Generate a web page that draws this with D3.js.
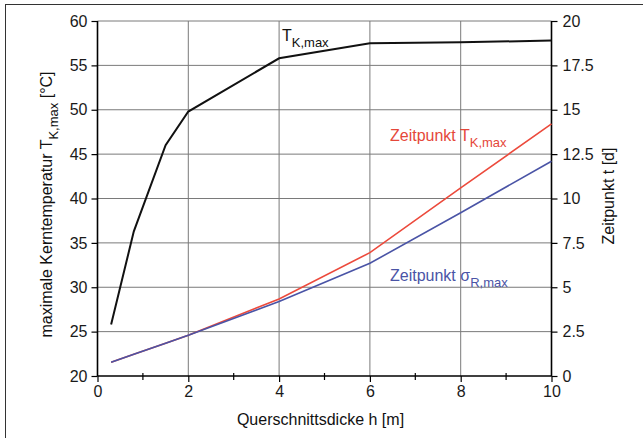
<!DOCTYPE html>
<html>
<head>
<meta charset="utf-8">
<script src="https://cdn.jsdelivr.net/npm/d3@7"></script>
<style>
html,body{margin:0;padding:0;background:#fff;}
svg{display:block;font-family:"Liberation Sans",Arial,Helvetica,sans-serif;}
</style>
</head>
<body>
<svg id="chart" width="643" height="438"></svg>
<script>
// ---- data ----
const thickness = [0.3, 0.8, 1.5, 2, 4, 6, 8, 10];          // h [m]
const tKmax = [25.8, 36.3, 46.0, 49.8, 55.8, 57.5, 57.6, 57.8]; // °C, left axis
const timeTKmax = [0.77, 1.22, 1.85, 2.3, 4.34, 6.95, 10.6, 14.2]; // d, right axis
const timeSigmaR = [0.77, 1.22, 1.85, 2.3, 4.2, 6.35, 9.2, 12.1]; // d, right axis
const xTicks = [0, 2, 4, 6, 8, 10];
const xMinorTicks = [1, 3, 5, 7, 9];
const leftTicks = [20, 25, 30, 35, 40, 45, 50, 55, 60];
const rightTicks = [0, 2.5, 5, 7.5, 10, 12.5, 15, 17.5, 20];

const svg = d3.select("#chart");
const L = 97.5, R = 551.5, T = 21, B = 376;
const x = d3.scaleLinear().domain([0, 10]).range([L, R]);
const yL = d3.scaleLinear().domain([20, 60]).range([B, T]);
const yR = d3.scaleLinear().domain([0, 20]).range([B, T]);

// outer frame
svg.append("rect").attr("x", 5.5).attr("y", 4.5).attr("width", 700).attr("height", 500)
  .attr("fill", "none").attr("stroke", "#333").attr("stroke-width", 1);

// grid
const g = svg.append("g");
g.selectAll("line.h").data(leftTicks.filter(d => d > 20)).join("line")
  .attr("x1", L).attr("x2", R).attr("y1", d => yL(d)).attr("y2", d => yL(d))
  .attr("stroke", "#7a7a7a").attr("stroke-width", 1);
g.selectAll("line.v").data(xTicks.filter(d => d > 0 && d < 10)).join("line")
  .attr("x1", d => x(d)).attr("x2", d => x(d)).attr("y1", T).attr("y2", B)
  .attr("stroke", "#7a7a7a").attr("stroke-width", 1);

// axes
const axX = d3.axisBottom(x).tickValues(xTicks).tickSize(6).tickPadding(4).tickFormat(d3.format("d"));
const gx = svg.append("g").attr("transform", `translate(0,${B})`).call(axX);
svg.append("g").selectAll("line").data(xMinorTicks).join("line")
  .attr("x1", d => x(d)).attr("x2", d => x(d)).attr("y1", B - 3).attr("y2", B + 4)
  .attr("stroke", "#000").attr("stroke-width", 1.2);

const axL = d3.axisLeft(yL).tickValues(leftTicks).tickSize(6).tickPadding(4).tickFormat(d3.format("d"));
const gl = svg.append("g").attr("transform", `translate(${L},0)`).call(axL);
const axR = d3.axisRight(yR).tickValues(rightTicks).tickSize(6).tickPadding(5).tickFormat(d => String(d));
const gr = svg.append("g").attr("transform", `translate(${R},0)`).call(axR);

[gx, gl, gr].forEach(a => {
  a.select(".domain").attr("stroke", "#000").attr("stroke-width", 1.6);
  a.selectAll(".tick line").attr("stroke", "#000").attr("stroke-width", 1.2);
  a.selectAll("text").attr("font-size", 16).attr("fill", "#1a1a1a")
    .attr("font-family", "'Liberation Sans',Arial,sans-serif");
});
gx.select(".domain").attr("d", `M${L},0H${R}`);
gl.select(".domain").attr("d", `M0,${B}V${T}`);
gr.select(".domain").attr("d", `M0,${B}V${T}`);

// lines
const lineL = d3.line().x((d, i) => x(thickness[i])).y(d => yL(d));
const lineR = d3.line().x((d, i) => x(thickness[i])).y(d => yR(d));
svg.append("path").attr("d", lineR(timeTKmax)).attr("fill", "none")
  .attr("stroke", "#ec4a3c").attr("stroke-width", 1.6);
svg.append("path").attr("d", lineR(timeSigmaR)).attr("fill", "none")
  .attr("stroke", "#4a54a6").attr("stroke-width", 1.6);
svg.append("path").attr("d", lineL(tKmax)).attr("fill", "none")
  .attr("stroke", "#111").attr("stroke-width", 2);

// series labels
const tk = svg.append("text").attr("x", 282).attr("y", 41).attr("fill", "#111").attr("font-size", 16);
tk.append("tspan").text("T");
tk.append("tspan").attr("dy", 6).attr("font-size", 13).text("K,max");
const red = svg.append("text").attr("x", 390).attr("y", 141).attr("fill", "#e5473a").attr("font-size", 16);
red.append("tspan").text("Zeitpunkt T");
red.append("tspan").attr("dy", 6).attr("font-size", 13).text("K,max");
const blue = svg.append("text").attr("x", 390).attr("y", 281).attr("fill", "#4a54a6").attr("font-size", 16);
blue.append("tspan").text("Zeitpunkt σ");
blue.append("tspan").attr("dy", 6).attr("font-size", 13).text("R,max");

// axis titles
svg.append("text").attr("x", (L + R) / 2 - 4).attr("y", 425).attr("text-anchor", "middle")
  .attr("font-size", 16).attr("fill", "#111").text("Querschnittsdicke h [m]");
const lt = svg.append("text").attr("transform", `translate(52,${(T + B) / 2 + 6}) rotate(-90)`)
  .attr("text-anchor", "middle").attr("font-size", 16).attr("fill", "#111");
lt.append("tspan").text("maximale Kerntemperatur T");
lt.append("tspan").attr("dy", 6).attr("font-size", 13).text("K,max");
lt.append("tspan").attr("dy", -6).text(" [°C]");
svg.append("text").attr("transform", `translate(614,${196}) rotate(-90)`)
  .attr("text-anchor", "middle").attr("font-size", 16).attr("fill", "#111").text("Zeitpunkt t [d]");
</script>
</body>
</html>
